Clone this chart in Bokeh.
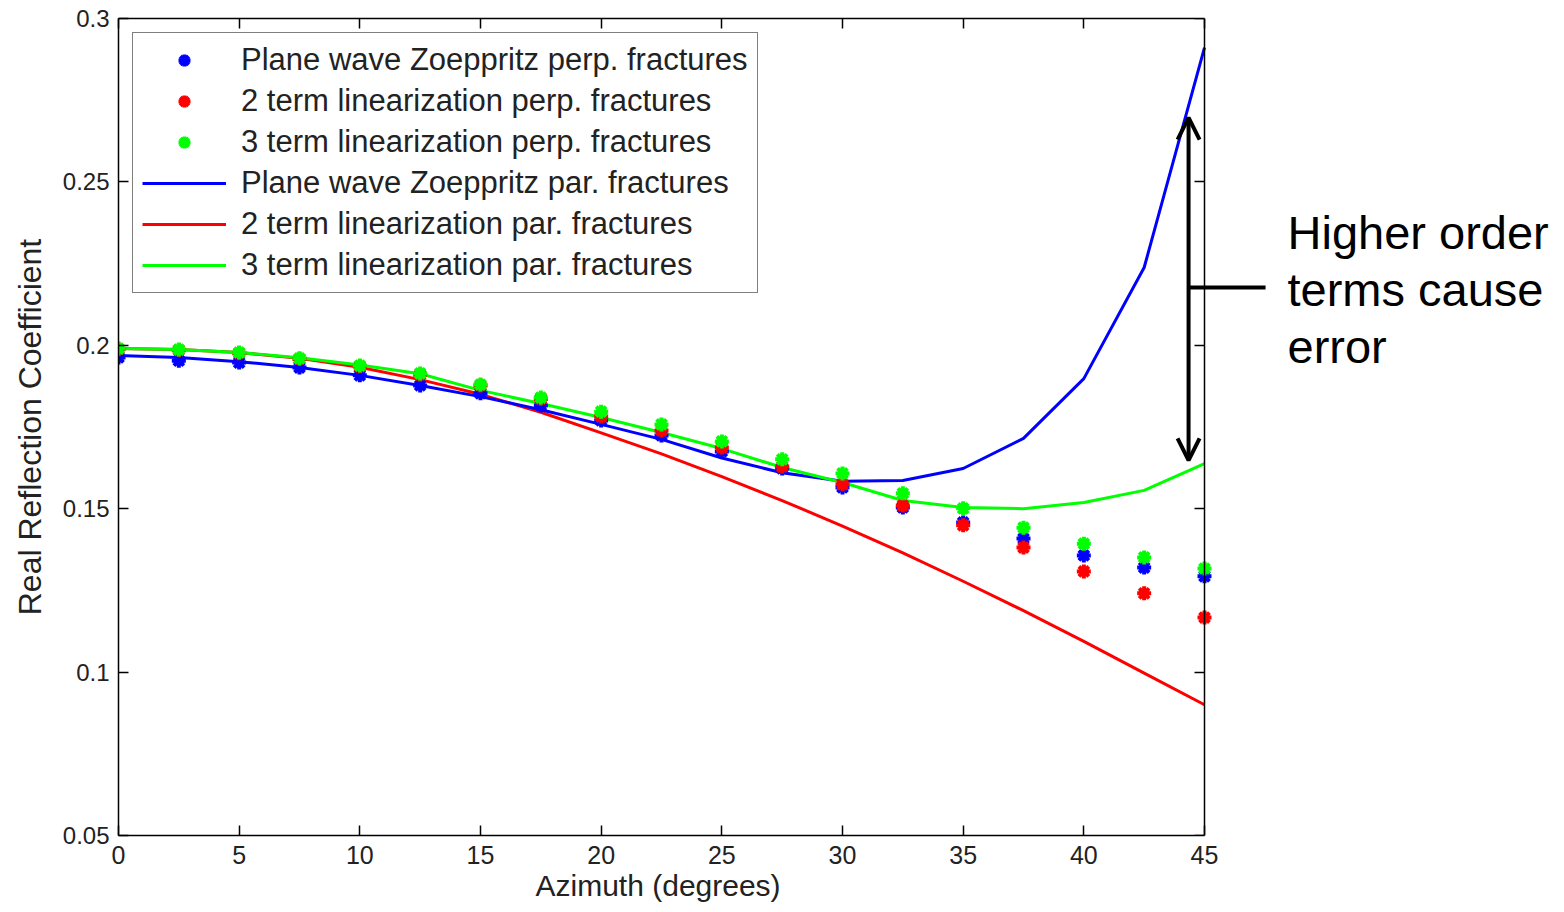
from bokeh.plotting import figure
from bokeh.models import (LinearAxis, FixedTicker, CustomJSTickFormatter, Arrow,
                          OpenHead, Range1d, Legend, LegendItem, Label, Title)
from bokeh.embed import file_html
from bokeh.resources import INLINE

# ---------------- data ----------------
azimuth = [0, 2.5, 5, 7.5, 10, 12.5, 15, 17.5, 20, 22.5, 25, 27.5, 30,
           32.5, 35, 37.5, 40, 42.5, 45]

zoep_perp = [0.1963, 0.1953, 0.1947, 0.1932, 0.1908, 0.1877, 0.1853, 0.1816,
             0.1770, 0.1724, 0.1675, 0.1623, 0.1565, 0.1504, 0.1458, 0.1409,
             0.1357, 0.1320, 0.1293]
two_perp = [0.1988, 0.1985, 0.1976, 0.1958, 0.1935, 0.1910, 0.1877, 0.1836,
            0.1782, 0.1739, 0.1687, 0.1629, 0.1575, 0.1510, 0.1449, 0.1381,
            0.1308, 0.1241, 0.1167]
three_perp = [0.1990, 0.1987, 0.1978, 0.1960, 0.1938, 0.1914, 0.1880, 0.1840,
              0.1797, 0.1758, 0.1706, 0.1651, 0.1608, 0.1547, 0.1501, 0.1442,
              0.1393, 0.1351, 0.1317]

zoep_par = [0.1969, 0.1963, 0.1950, 0.1932, 0.1908, 0.1877, 0.1843, 0.1803,
            0.1758, 0.1712, 0.1655, 0.1610, 0.1584, 0.1586, 0.1623, 0.1715,
            0.1898, 0.2238, 0.2911]
two_par = [0.1990, 0.1987, 0.1978, 0.1960, 0.1933, 0.1895, 0.1850, 0.1795,
           0.1732, 0.1668, 0.1598, 0.1525, 0.1447, 0.1365, 0.1278, 0.1188,
           0.1094, 0.0997, 0.0900]
three_par = [0.1990, 0.1987, 0.1978, 0.1962, 0.1940, 0.1913, 0.1862, 0.1822,
             0.1779, 0.1733, 0.1684, 0.1626, 0.1580, 0.1525, 0.1504, 0.1500,
             0.1519, 0.1556, 0.1638]

x_ticks = [0, 5, 10, 15, 20, 25, 30, 35, 40, 45]
y_ticks = [0.05, 0.1, 0.15, 0.2, 0.25, 0.3]

x_title = "Azimuth (degrees)"
y_title = "Real Reflection Coefficient"
legend_labels = ["Plane wave Zoeppritz perp. fractures",
                 "2 term linearization perp. fractures",
                 "3 term linearization perp. fractures",
                 "Plane wave Zoeppritz par. fractures",
                 "2 term linearization par. fractures",
                 "3 term linearization par. fractures"]
note_lines = ["Higher order", "terms cause", "error"]
note_y = [0.2346, 0.2171, 0.1997]

FONT = "Liberation Sans"
BLUE, RED, GREEN = "#0000ff", "#ff0000", "#00ff00"

X0, X1, Y0, Y1 = 0, 45, 0.05, 0.3
AXES_W = 1086                      # pixel width of the 0..45 box
PX_PER_X = AXES_W / (X1 - X0)
W, H = 1556, 904
BORDER_L, BORDER_R, BORDER_T, BORDER_B = 118, 4, 18, 69
FRAME_W = W - BORDER_L - BORDER_R
X_END = X0 + FRAME_W / PX_PER_X    # frame extends right of the box for the note

p = figure(width=W, height=H, output_backend="svg", toolbar_location=None,
           x_range=Range1d(X0, X_END), y_range=Range1d(Y0, Y1),
           min_border_left=BORDER_L, min_border_right=BORDER_R,
           min_border_top=BORDER_T, min_border_bottom=BORDER_B)
p.grid.visible = False
p.outline_line_color = None
p.background_fill_color = "white"
p.border_fill_color = "white"

fmt = CustomJSTickFormatter(code="return tick.toFixed(2).replace(/\\.?0+$/, '');")
blank = CustomJSTickFormatter(code="return '';")

def style_axis(ax):
    ax.major_tick_in = 10
    ax.major_tick_out = 0
    ax.minor_tick_in = 0
    ax.minor_tick_out = 0
    ax.axis_line_color = "black"
    ax.axis_line_width = 1.5
    ax.major_tick_line_color = "black"
    ax.major_tick_line_width = 1.5
    ax.major_label_text_font = FONT
    ax.major_label_text_color = "#222222"
    ax.axis_label_text_font = FONT
    ax.axis_label_text_font_style = "normal"
    ax.axis_label_text_color = "#222222"

xa = p.xaxis[0]
xa.ticker = FixedTicker(ticks=x_ticks)
xa.bounds = (X0, X1)
style_axis(xa)
xa.major_label_text_font_size = "25px"
xa.major_label_standoff = 10

ya = p.yaxis[0]
ya.ticker = FixedTicker(ticks=y_ticks)
ya.formatter = fmt
style_axis(ya)
ya.major_label_text_font_size = "24px"
ya.major_label_standoff = 9
ya.axis_label = y_title
ya.axis_label_text_font_size = "32px"
ya.axis_label_standoff = 12

top = LinearAxis(ticker=FixedTicker(ticks=x_ticks), formatter=blank, bounds=(X0, X1))
style_axis(top)
top.major_label_standoff = 0
p.add_layout(top, "above")
right = LinearAxis(ticker=FixedTicker(ticks=y_ticks), formatter=blank,
                   fixed_location=X1)
style_axis(right)
right.major_label_standoff = 0
p.add_layout(right, "right")

# x axis title, centred under the 0..45 box
p.add_layout(Title(text=x_title, align="left", offset=417, standoff=0,
                   text_font=FONT, text_font_size="30px",
                   text_font_style="normal", text_color="#222222"), "below")

# lines (parallel fractures)
l_red = p.line(azimuth, two_par, color=RED, line_width=3)
l_blue = p.line(azimuth, zoep_par, color=BLUE, line_width=3)
l_green = p.line(azimuth, three_par, color=GREEN, line_width=3)

# points (perpendicular fractures)
s_blue = p.scatter(azimuth, zoep_perp, marker="asterisk", size=14, line_width=4, color=BLUE)
s_red = p.scatter(azimuth, two_perp, marker="asterisk", size=14, line_width=4, color=RED)
s_green = p.scatter(azimuth, three_perp, marker="asterisk", size=14, line_width=4, color=GREEN)

leg = Legend(items=[LegendItem(label=legend_labels[0], renderers=[s_blue]),
                    LegendItem(label=legend_labels[1], renderers=[s_red]),
                    LegendItem(label=legend_labels[2], renderers=[s_green]),
                    LegendItem(label=legend_labels[3], renderers=[l_blue]),
                    LegendItem(label=legend_labels[4], renderers=[l_red]),
                    LegendItem(label=legend_labels[5], renderers=[l_green])],
             location="top_left")
leg.margin = 14
leg.padding = 9
leg.spacing = 5
leg.label_height = 30
leg.glyph_height = 30
leg.glyph_width = 84
leg.label_standoff = 15
leg.label_text_font = FONT
leg.label_text_font_size = "31px"
leg.label_text_color = "#222222"
leg.border_line_color = "black"
leg.border_line_width = 1.5
leg.background_fill_alpha = 1.0
p.add_layout(leg, "center")

# annotation
arrow_x = 44.34
bar_y = 0.2177
p.add_layout(Arrow(x_start=arrow_x, y_start=0.1648, x_end=arrow_x, y_end=0.2697,
                   line_width=4, line_color="black",
                   start=OpenHead(size=22, line_width=4, line_color="black"),
                   end=OpenHead(size=22, line_width=4, line_color="black")))
p.add_layout(Arrow(x_start=arrow_x, y_start=bar_y, x_end=47.53, y_end=bar_y,
                   line_width=4, line_color="black", end=None))
for txt, yv in zip(note_lines, note_y):
    p.add_layout(Label(x=48.44, y=yv, text=txt, text_font=FONT,
                       text_font_size="47px", text_color="black",
                       text_baseline="alphabetic", text_align="left"))

open("out.html", "w").write(file_html(p, INLINE))
